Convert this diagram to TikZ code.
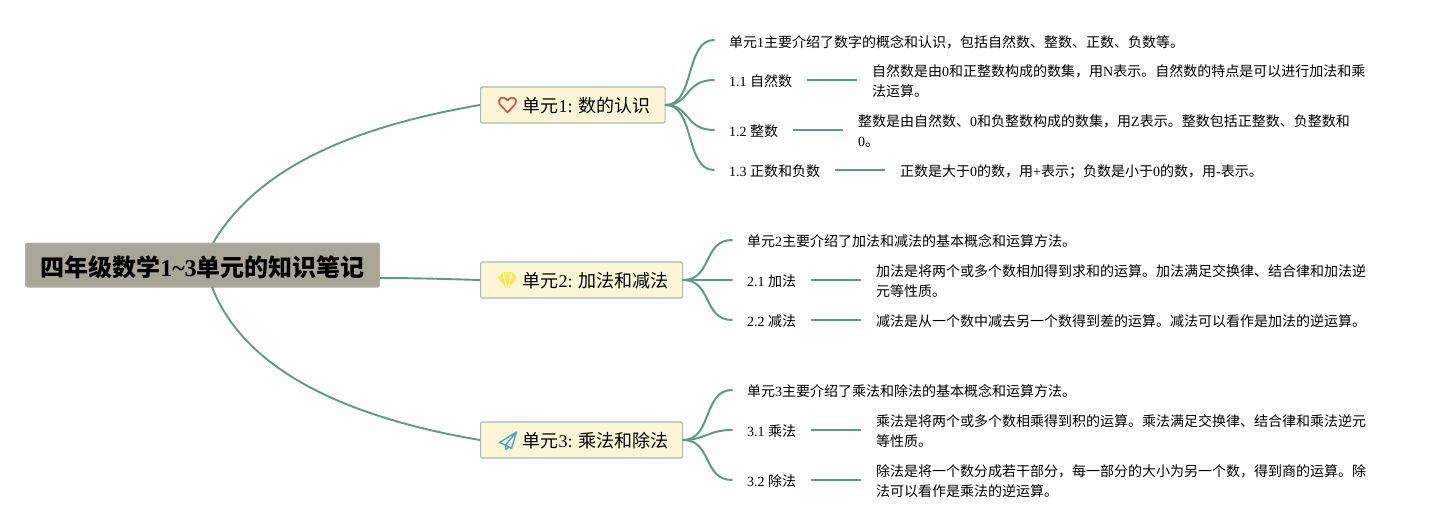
\documentclass[tikz,border=0pt]{standalone}
\usepackage{fontspec}
\setmainfont{Noto Sans CJK SC}
\newfontfamily\latinf{Liberation Serif}
\newcommand{\ltn}[1]{{\latinf #1}}
\definecolor{linec}{HTML}{5F9A85}
\definecolor{rootc}{HTML}{A9A698}
\definecolor{topicc}{HTML}{FDF5D5}
\definecolor{topicb}{HTML}{A3C2AD}
\definecolor{heartc}{HTML}{D9533A}
\definecolor{gemc}{HTML}{F5E85C}
\definecolor{planec}{HTML}{4AA6D0}
\tikzset{
  x=1pt,y=-1pt,
  rootbox/.style={draw=rootc!85!white,fill=rootc,rounded corners=2pt,line width=1pt,minimum width=354pt,minimum height=44pt,inner sep=0pt,font=\fontsize{24}{28}\selectfont\bfseries,text=black},
  topicbox/.style={draw=topicb,fill=topicc,rounded corners=2pt,line width=1.2pt,minimum height=36pt,inner sep=0pt,anchor=west,font=\fontsize{18}{22}\selectfont,text=black},
  leaf/.style={anchor=west,inner xsep=15pt,inner ysep=0pt,font=\fontsize{14}{20}\selectfont,text=black,align=left},
  link/.style={draw=linec,line width=2pt,line cap=round},
  thin link/.style={draw=linec,line width=1.9pt},
}
\begin{document}
\begin{tikzpicture}
\useasboundingbox (0,0) rectangle (1436,530);
\fill[white] (0,0) rectangle (1436,530);

\node[rootbox] (root) at (202.5,265) {\raisebox{-11pt}[0pt][0pt]{四年级数学\ltn{1\textasciitilde3}单元的知识笔记}};
\node[topicbox,minimum width=184.5pt] (u1) at (480,105) {\hspace{27.5pt}\raisebox{-7.3pt}[0pt][0pt]{单元\ltn{1: }数的认识}};
\node[topicbox,minimum width=202pt] (u2) at (480,280) {\hspace{28pt}\raisebox{-7.3pt}[0pt][0pt]{单元\ltn{2: }加法和减法}};
\node[topicbox,minimum width=202pt] (u3) at (480,440) {\hspace{28pt}\raisebox{-7.3pt}[0pt][0pt]{单元\ltn{3: }乘法和除法}};

\coordinate (r1) at (213,243);
\coordinate (r3) at (212,287);
\draw[thin link] (r1) .. controls (262,160) and (370,124) .. (u1.west);
\draw[thin link] (root.east|-0,278) .. controls (415,278) and (445,279) .. (u2.west);
\draw[thin link] (r3) .. controls (245,372) and (350,418) .. (u3.west);

% unit 1
\node[leaf] (s10) at (714,42) {单元\ltn{1}主要介绍了数字的概念和认识，包括自然数、整数、正数、负数等。};
\node[leaf] (s11) at (714,81) {\ltn{1.1 }自然数};
\node[leaf] (s12) at (714,131) {\ltn{1.2 }整数};
\node[leaf] (s13) at (714,171) {\ltn{1.3 }正数和负数};
\node[leaf] (d11) at (857,81) {自然数是由\ltn{0}和正整数构成的数集，用\ltn{N}表示。自然数的特点是可以进行加法和乘\\法运算。};
\node[leaf] (d12) at (843,131) {整数是由自然数、\ltn{0}和负整数构成的数集，用\ltn{Z}表示。整数包括正整数、负整数和\\\ltn{0}。};
\node[leaf] (d13) at (885,172) {正数是大于\ltn{0}的数，用\ltn{+}表示；负数是小于\ltn{0}的数，用\ltn{-}表示。};
\draw[link] (u1.east) .. controls (695,105) and (685,40) .. (s10.west|-0,40);
\draw[link] (u1.east) .. controls (690,105) and (685,80) .. (s11.west|-0,80);
\draw[link] (u1.east) .. controls (690,105) and (685,130) .. (s12.west|-0,130);
\draw[link] (u1.east) .. controls (695,105) and (685,170) .. (s13.west|-0,170);
\draw[thin link] (s11.east|-0,80) -- (d11.west|-0,80);
\draw[thin link] (s12.east|-0,130) -- (d12.west|-0,130);
\draw[thin link] (s13.east|-0,170) -- (d13.west|-0,170);

% unit 2
\node[leaf] (s20) at (732,241) {单元\ltn{2}主要介绍了加法和减法的基本概念和运算方法。};
\node[leaf] (s21) at (732,281) {\ltn{2.1 }加法};
\node[leaf] (s22) at (732,321) {\ltn{2.2 }减法};
\node[leaf] (d21) at (861,281) {加法是将两个或多个数相加得到求和的运算。加法满足交换律、结合律和加法逆\\元等性质。};
\node[leaf] (d22) at (861,321) {减法是从一个数中减去另一个数得到差的运算。减法可以看作是加法的逆运算。};
\draw[link] (u2.east) .. controls (712,280) and (703,240) .. (s20.west|-0,240);
\draw[link] (u2.east) -- (s21.west|-0,280);
\draw[link] (u2.east) .. controls (712,280) and (703,320) .. (s22.west|-0,320);
\draw[thin link] (s21.east|-0,280) -- (d21.west|-0,280);
\draw[thin link] (s22.east|-0,320) -- (d22.west|-0,320);

% unit 3
\node[leaf] (s30) at (732,391) {单元\ltn{3}主要介绍了乘法和除法的基本概念和运算方法。};
\node[leaf] (s31) at (732,431) {\ltn{3.1 }乘法};
\node[leaf] (s32) at (732,481) {\ltn{3.2 }除法};
\node[leaf] (d31) at (861,431) {乘法是将两个或多个数相乘得到积的运算。乘法满足交换律、结合律和乘法逆元\\等性质。};
\node[leaf] (d32) at (861,481) {除法是将一个数分成若干部分，每一部分的大小为另一个数，得到商的运算。除\\法可以看作是乘法的逆运算。};
\draw[link] (u3.east) .. controls (712,440) and (703,390) .. (s30.west|-0,390);
\draw[link] (u3.east) .. controls (705,440) and (708,430) .. (s31.west|-0,430);
\draw[link] (u3.east) .. controls (712,440) and (703,480) .. (s32.west|-0,480);
\draw[thin link] (s31.east|-0,430) -- (d31.west|-0,430);
\draw[thin link] (s32.east|-0,480) -- (d32.west|-0,480);

% icons
\draw[draw=heartc,line width=1.7pt,line join=round]
  (507.5,112.5) -- (499.6,104) .. controls (496.5,99.5) and (503,94) .. (507.5,100.5)
  .. controls (512,94) and (518.5,99.5) .. (515.4,104) -- cycle;
\fill[gemc] (503,272) -- (512,272) -- (517,278) -- (507.5,289.5) -- (498,278) -- cycle;
\draw[white,line width=.4pt] (498,278) -- (517,278) (503,272) -- (504,278) -- (507.5,289) -- (511,278) -- (512,272) (504,278) -- (507.5,272) -- (511,278);
\draw[draw=planec,line width=1.4pt,line join=round]
  (516.5,432) -- (499.5,442.5) -- (505.5,445) -- (511.5,448.5) -- cycle
  (505.5,445) -- (516.5,432) (505.5,445) -- (506,449.5) -- (508.8,447);
\end{tikzpicture}
\end{document}
